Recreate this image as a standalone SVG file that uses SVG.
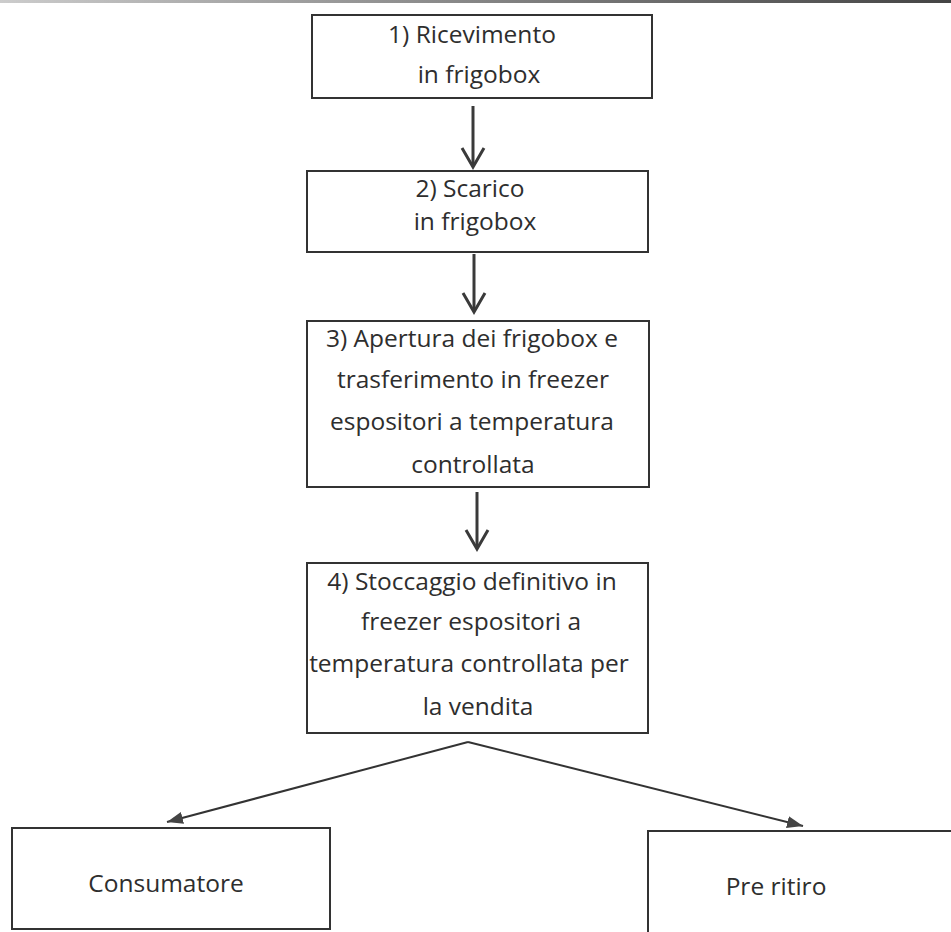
<svg xmlns="http://www.w3.org/2000/svg" width="951" height="932" viewBox="0 0 951 932">
<defs>
<style>
.box{fill:#fff;stroke:#333;stroke-width:2}
.t{font-family:"Open Sans","Noto Sans",sans-serif;font-size:24.5px;fill:#2e2e2e;text-anchor:middle}
.ln{stroke:#3a3a3a;stroke-width:3;fill:none}
.br{stroke:#333;stroke-width:2;fill:none}
</style>
<linearGradient id="edge" gradientUnits="userSpaceOnUse" x1="0" y1="0" x2="951" y2="0">
<stop offset="0" stop-color="#ccc"/>
<stop offset="0.35" stop-color="#999"/>
<stop offset="1" stop-color="#444"/>
</linearGradient>
<marker id="tri" viewBox="0 0 16 12" refX="16" refY="6" markerWidth="16" markerHeight="12" markerUnits="userSpaceOnUse" orient="auto">
<path d="M0,0 L16,6 L0,12 Z" fill="#444"/>
</marker>
</defs>
<rect x="0" y="0" width="951" height="932" fill="#fff"/>
<rect x="0" y="0" width="951" height="3" fill="url(#edge)"/>

<g id="n1">
<rect class="box" x="312" y="15" width="340" height="83"/>
<text class="t" x="472" y="43">1) Ricevimento</text>
<text class="t" x="479" y="83">in frigobox</text>
</g>
<g id="n2">
<rect class="box" x="307" y="171" width="341" height="81"/>
<text class="t" x="470" y="197">2) Scarico</text>
<text class="t" x="475" y="230">in frigobox</text>
</g>
<g id="n3">
<rect class="box" x="307" y="321" width="342" height="166"/>
<text class="t" x="472" y="347">3) Apertura dei frigobox e</text>
<text class="t" x="473" y="388">trasferimento in freezer</text>
<text class="t" x="472" y="430">espositori a temperatura</text>
<text class="t" x="473" y="473">controllata</text>
</g>
<g id="n4">
<rect class="box" x="307" y="563" width="341" height="170"/>
<text class="t" x="472" y="590">4) Stoccaggio definitivo in</text>
<text class="t" x="471" y="630">freezer espositori a</text>
<text class="t" x="469" y="672">temperatura controllata per</text>
<text class="t" x="478" y="715">la vendita</text>
</g>
<g id="n5">
<rect class="box" x="12" y="828" width="318" height="101"/>
<text class="t" x="166" y="892">Consumatore</text>
</g>
<g id="n6">
<rect class="box" x="648" y="831" width="320" height="110"/>
<text class="t" x="776" y="895">Pre ritiro</text>
</g>

<g id="connectors">
<line class="ln" x1="473" y1="106" x2="473" y2="166"/>
<polyline class="ln" points="462,148 473,167 484,148"/>
<line class="ln" x1="474" y1="254" x2="474" y2="311"/>
<polyline class="ln" points="463,293 474,312 485,293"/>
<line class="ln" x1="477" y1="492" x2="477" y2="548"/>
<polyline class="ln" points="466,530 477,549 488,530"/>
<line class="br" x1="468" y1="742" x2="167" y2="822" marker-end="url(#tri)"/>
<line class="br" x1="468" y1="742" x2="803" y2="826" marker-end="url(#tri)"/>
</g>
</svg>
